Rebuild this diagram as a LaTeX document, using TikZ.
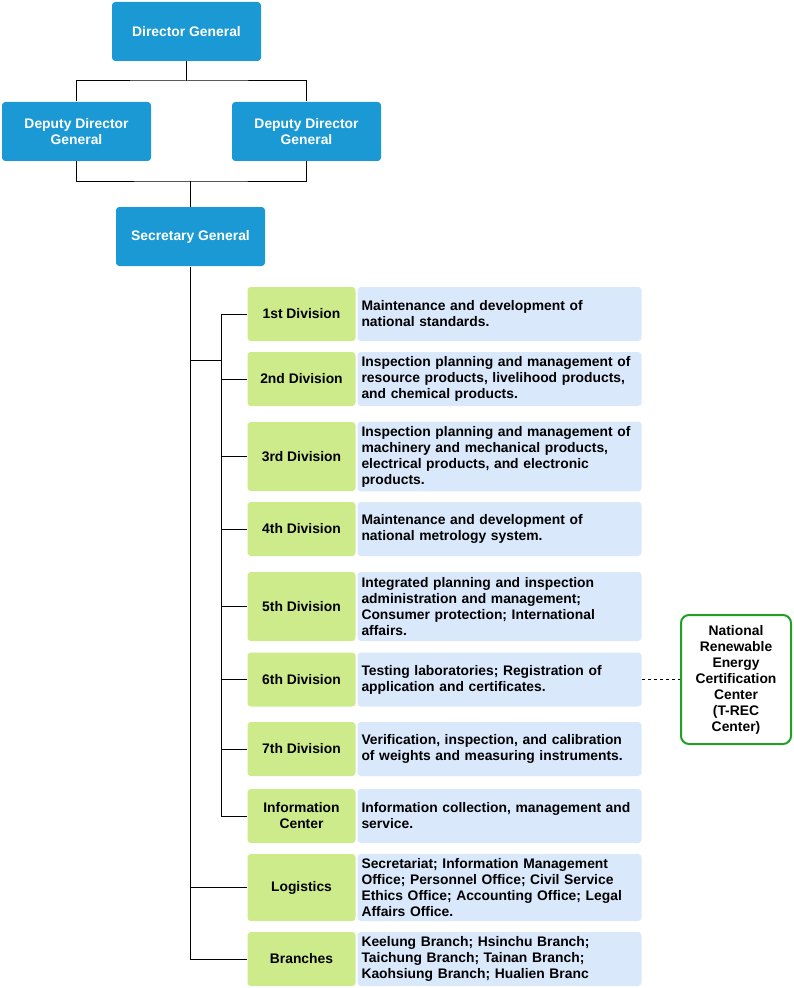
\documentclass[tikz,border=0pt]{standalone}
\usepackage{fontspec}
\setmainfont{Liberation Sans}
\definecolor{headblue}{HTML}{1B99D5}
\definecolor{unitgreen}{HTML}{CDEB8B}
\definecolor{taskblue}{HTML}{DAE8FC}
\definecolor{trecgreen}{HTML}{22A022}
\begin{document}
\begin{tikzpicture}[x=0.75pt, y=-0.75pt,
    every node/.style={font=\fontsize{10.4}{12}\selectfont\bfseries, rounded corners=2.5pt},
    head/.style={fill=headblue, text=white, align=center, minimum width=111.75pt, minimum height=44.25pt},
    unit/.style={fill=unitgreen, align=center, minimum width=81pt, minimum height=40.5pt},
    task/.style={fill=taskblue, align=left, text width=207pt, inner xsep=3pt, minimum height=40.5pt},
    line width=0.75pt
    ]
    \useasboundingbox (0,0) rectangle (793,988);

    % Define nodes
    \node[head] (dg) at (186.5, 31.5) {Director General};
    \node[head] (ddgl) at (76.5, 131.5) {Deputy Director\\General};
    \node[head] (ddgr) at (306.5, 131.5) {Deputy Director\\General};
    \node[head] (sg) at (190.5, 236.5) {Secretary General};

    \node[unit] (div1) at (301.5, 314) {1st Division};
    \node[task] (t1) at (499.5, 314) {Maintenance and development of\\national standards.};
    \node[unit] (div2) at (301.5, 379) {2nd Division};
    \node[task] (t2) at (499.5, 379) {Inspection planning and management of\\resource products, livelihood products,\\and chemical products.};
    \node[unit, minimum height=51.75pt] (div3) at (301.5, 456.5) {3rd Division};
    \node[task, minimum height=51.75pt] (t3) at (499.5, 456.5) {Inspection planning and management of\\machinery and mechanical products,\\electrical products, and electronic\\products.};
    \node[unit] (div4) at (301.5, 529) {4th Division};
    \node[task] (t4) at (499.5, 529) {Maintenance and development of\\national metrology system.};
    \node[unit, minimum height=51.75pt] (div5) at (301.5, 606.5) {5th Division};
    \node[task, minimum height=51.75pt] (t5) at (499.5, 606.5) {Integrated planning and inspection\\administration and management;\\Consumer protection; International\\affairs.};
    \node[unit] (div6) at (301.5, 679.5) {6th Division};
    \node[task] (t6) at (499.5, 679.5) {Testing laboratories; Registration of\\application and certificates.};
    \node[unit] (div7) at (301.5, 749) {7th Division};
    \node[task] (t7) at (499.5, 749) {Verification, inspection, and calibration\\of weights and measuring instruments.};
    \node[unit] (info) at (301.5, 816) {Information\\Center};
    \node[task] (t8) at (499.5, 816) {Information collection, management and\\service.};
    \node[unit, minimum height=50.25pt] (logi) at (301.5, 887.5) {Logistics};
    \node[task, minimum height=50.25pt] (t9) at (499.5, 887.5) {Secretariat; Information Management\\Office; Personnel Office; Civil Service\\Ethics Office; Accounting Office; Legal\\Affairs Office.};
    \node[unit] (branch) at (301.5, 959) {Branches};
    \node[task] (t10) at (499.5, 959) {Keelung Branch; Hsinchu Branch;\\Taichung Branch; Tainan Branch;\\Kaohsiung Branch; Hualien Branc};

    \node[draw=trecgreen, line width=1.5pt, rounded corners=6pt, align=center,
        minimum width=82.5pt, minimum height=96.75pt, inner sep=2pt] (trec) at (736, 679.5)
        {National\\Renewable\\Energy\\Certification\\Center\\(T-REC\\Center)};

    % Junctions
    \coordinate (j1) at (186.5, 81);
    \coordinate (j2) at (190.5, 181);
    \coordinate (hub) at (221, 360);

    % Draw edges
    \draw (dg) -- (j1);
    \draw (ddgl) |- (j1) -| (ddgr);
    \draw (ddgl) |- (j2) -| (ddgr);
    \draw (j2) -- (sg);
    \draw (sg) |- (branch);
    \draw (sg.south |- logi) -- (logi);
    \draw (sg.south |- hub) -- (hub);
    \draw (div1) -| (hub);
    \draw (info) -| (hub);
    \draw (div2) -- (div2 -| hub);
    \draw (div3) -- (div3 -| hub);
    \draw (div4) -- (div4 -| hub);
    \draw (div5) -- (div5 -| hub);
    \draw (div6) -- (div6 -| hub);
    \draw (div7) -- (div7 -| hub);
    \draw[dash pattern=on 2.25pt off 2.25pt] (t6) -- (trec);

\end{tikzpicture}
\end{document}
